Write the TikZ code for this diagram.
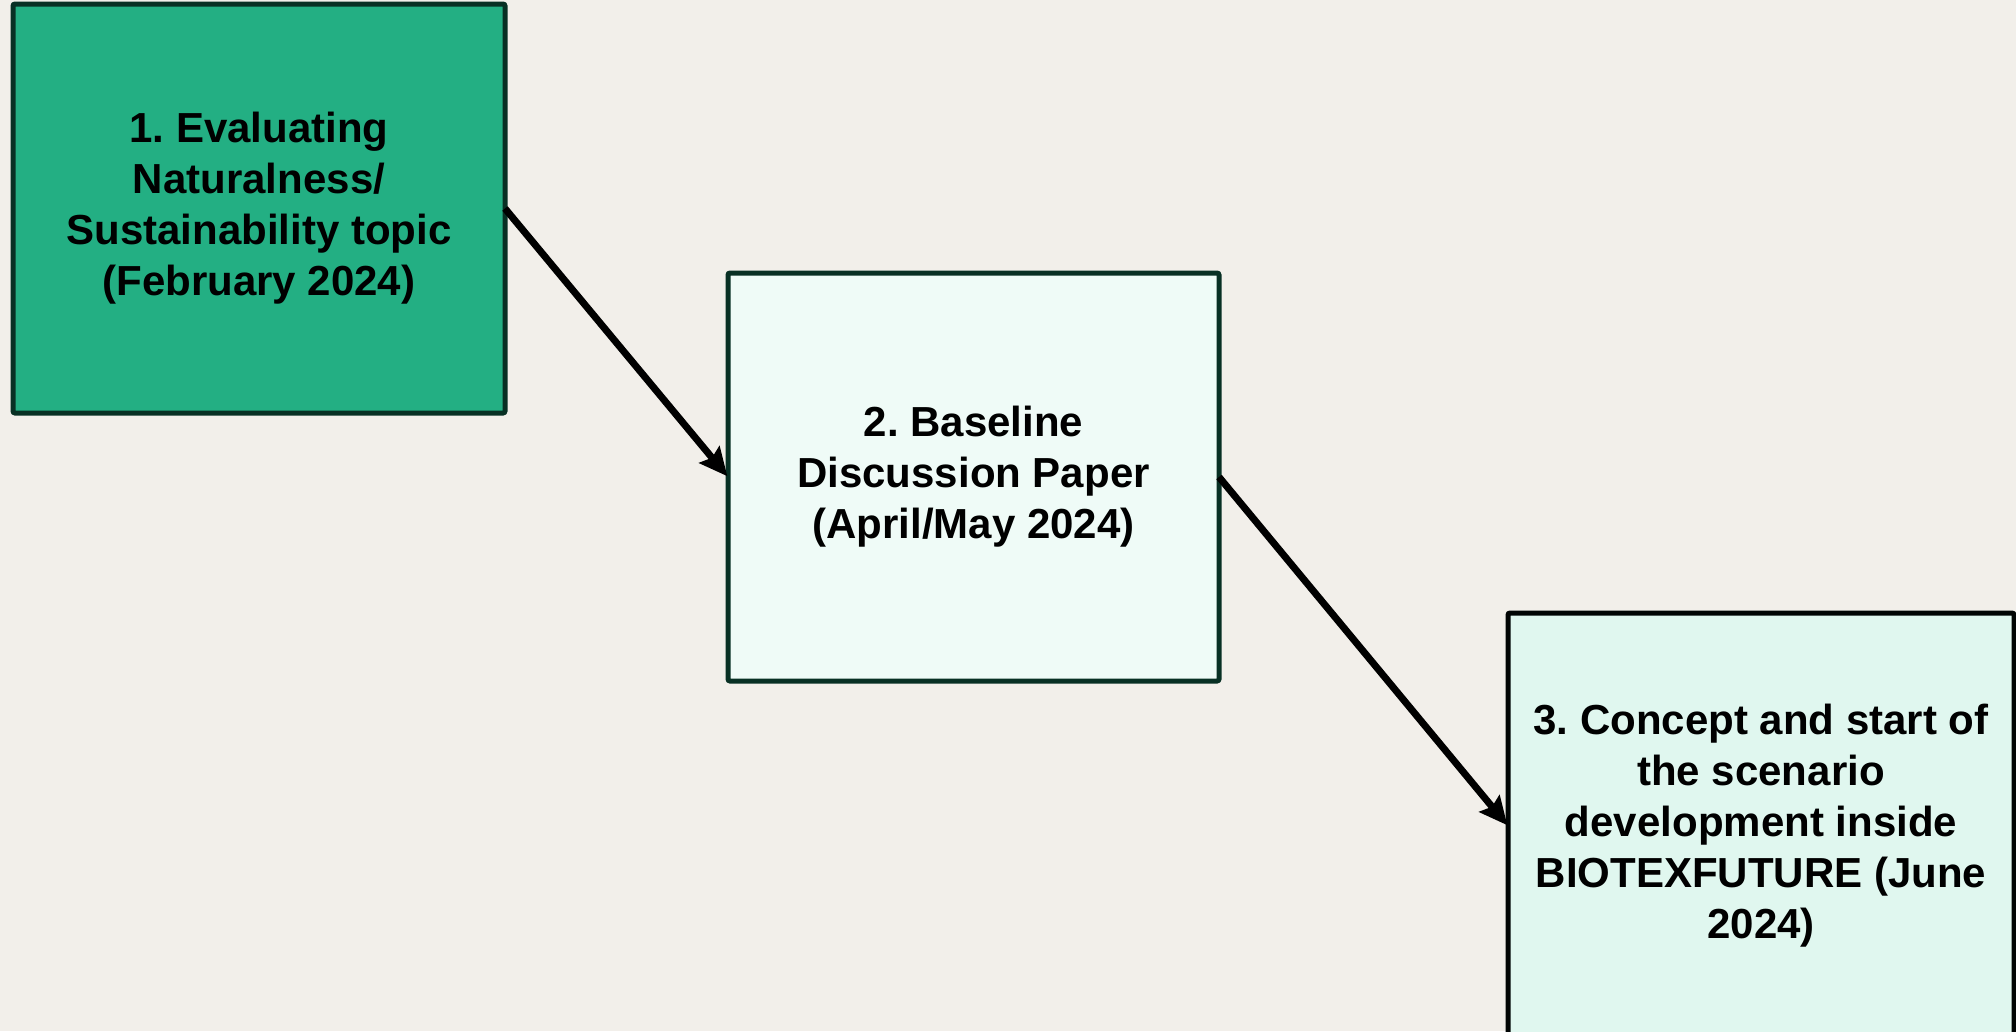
\documentclass[tikz,border=0pt]{standalone}
\usepackage{fontspec}
\setmainfont{Liberation Sans}
\usetikzlibrary{arrows.meta}
\definecolor{bgc}{RGB}{242,239,234}
\definecolor{fillA}{RGB}{35,175,131}
\definecolor{fillB}{RGB}{239,251,247}
\definecolor{fillC}{RGB}{224,247,239}
\definecolor{edgeA}{RGB}{8,48,36}
\tikzset{
  stagebox/.style={draw=edgeA, line width=5pt, rounded corners=2pt, align=center,
    font=\bfseries\fontsize{42}{51}\selectfont\frenchspacing, inner sep=0pt, outer sep=0pt},
  flowarrow/.style={line width=7pt, black, -{Stealth[length=28pt,width=26pt,inset=4pt]}, shorten >=1pt}
}
\begin{document}
\begin{tikzpicture}[x=1pt,y=-1pt]
\useasboundingbox (0,0) rectangle (2016,1031);
\fill[bgc] (0,0) rectangle (2016,1031);
\begin{scope}
\clip (0,0) rectangle (2016,1031);
\node[stagebox, fill=fillA, minimum width=492pt, minimum height=409pt] (b1) at (259,208.5)
  {1. Evaluating\\Naturalness/\\Sustainability topic\\(February 2024)};
\node[stagebox, fill=fillB, minimum width=491pt, minimum height=408pt] (b2) at (973.5,477)
  {2. Baseline\\Discussion Paper\\(April/May 2024)};
\node[stagebox, fill=fillC, draw=black!90!edgeA, minimum width=506pt, minimum height=426pt] (b3) at (1761,826)
  {3. Concept and start of\\the scenario\\development inside\\BIOTEXFUTURE (June\\2024)};
\draw[flowarrow] (b1.east) -- (b2.west);
\draw[flowarrow] (b2.east) -- (b3.west);
\end{scope}
\end{tikzpicture}
\end{document}
